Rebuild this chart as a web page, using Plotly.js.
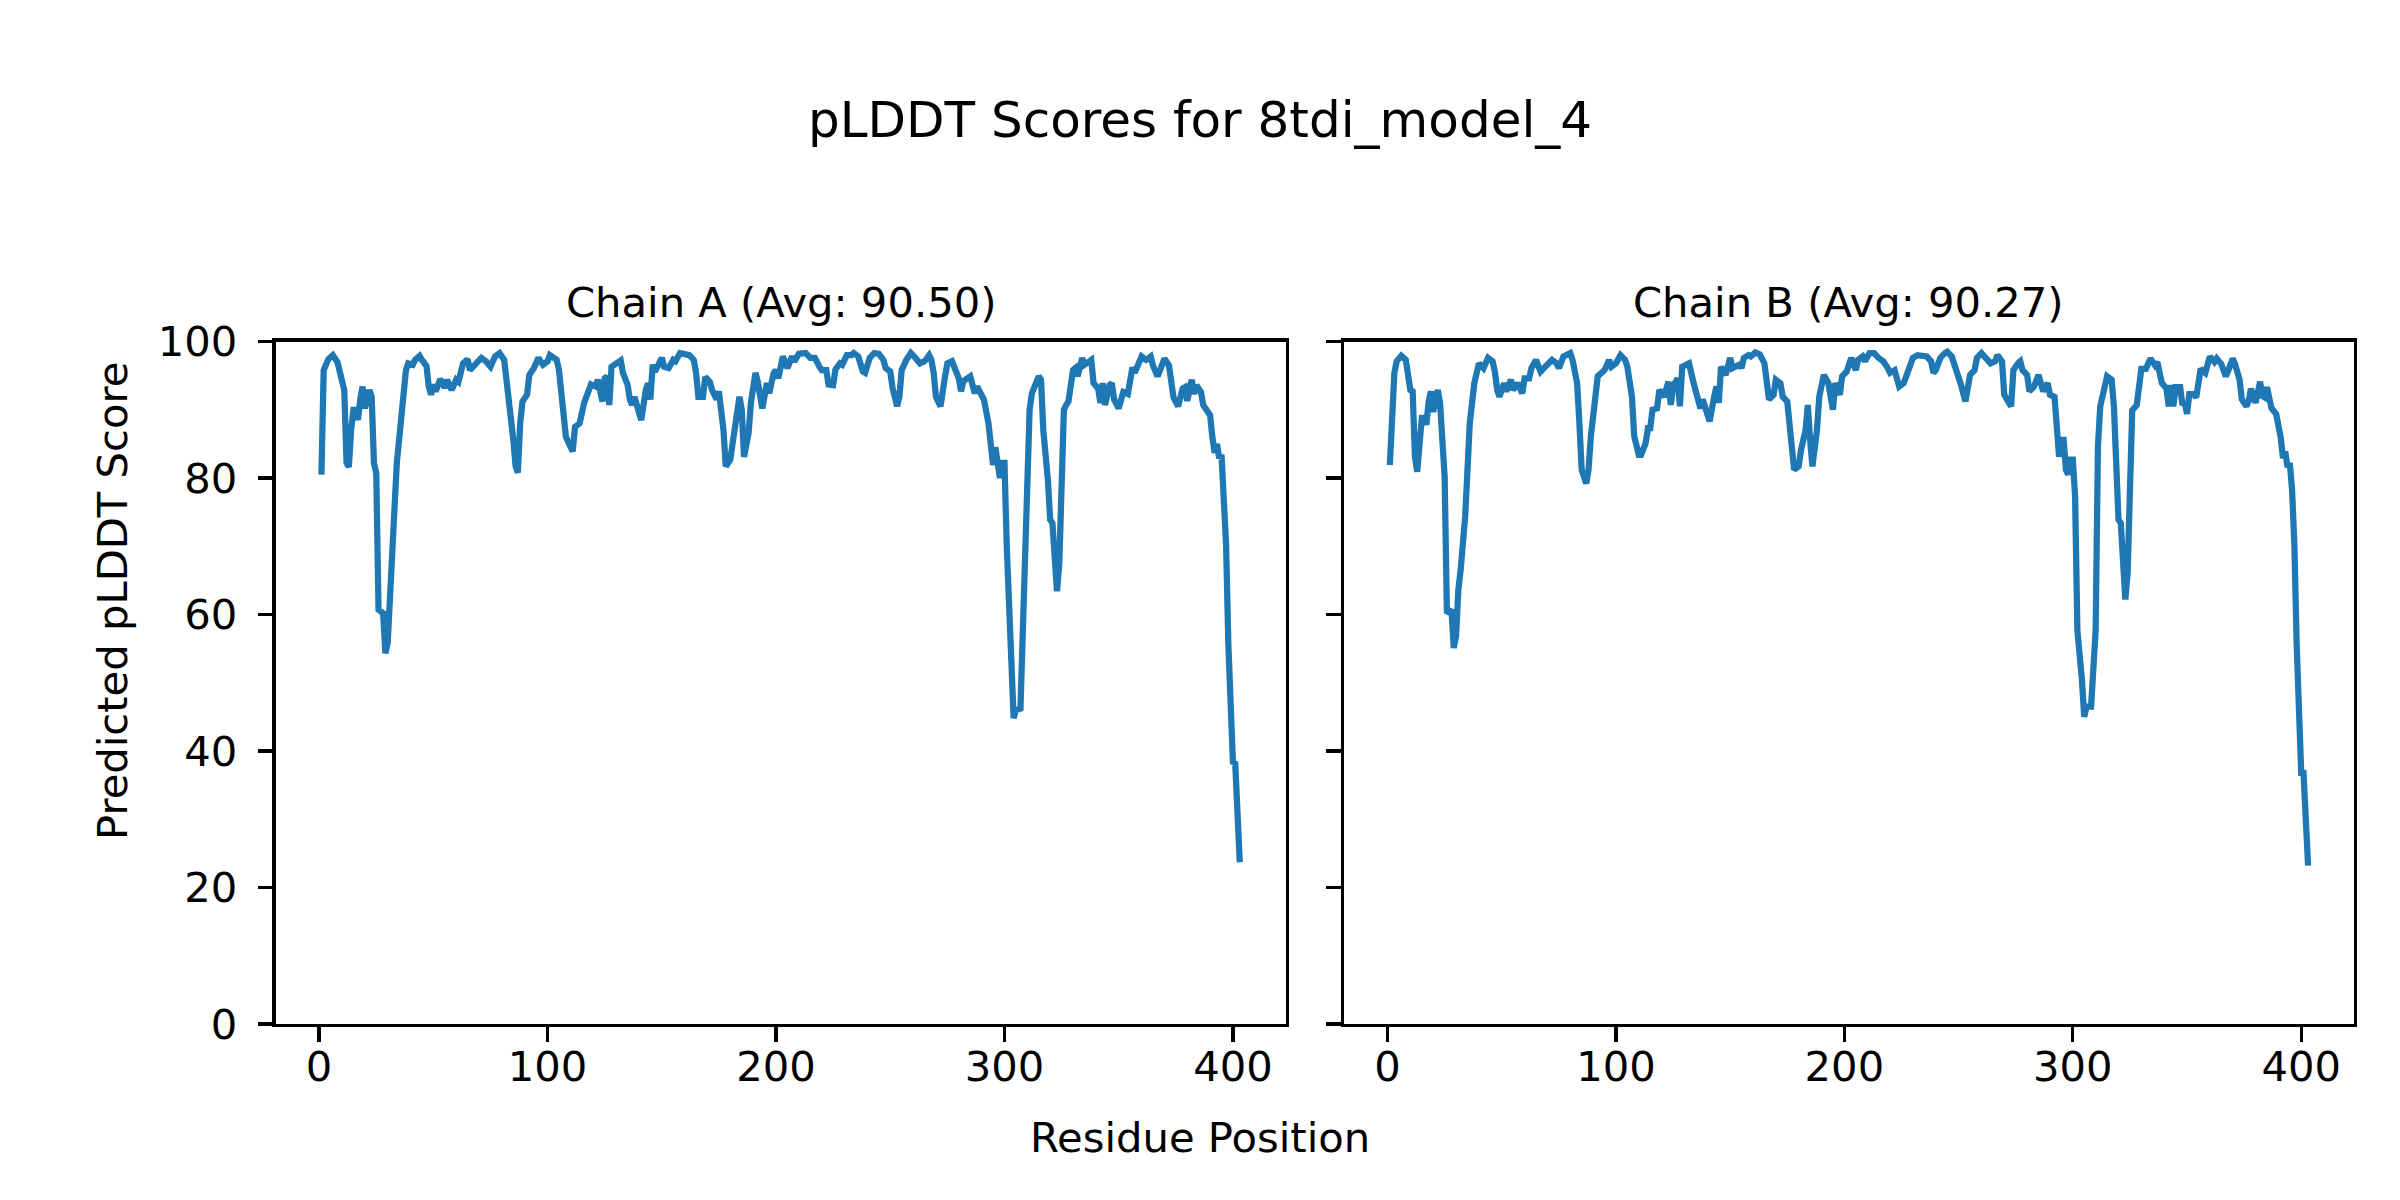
<!DOCTYPE html>
<html>
<head>
<meta charset="utf-8">
<script src="https://cdn.plot.ly/plotly-3.0.1.min.js"></script>
<style>body{margin:0;background:#fff}#chart{width:2400px;height:1200px}</style>
</head>
<body>
<div id="chart"></div>
<script>
const figureTitle = 'pLDDT Scores for 8tdi_model_4';
const chainTitles = ['Chain A (Avg: 90.50)', 'Chain B (Avg: 90.27)'];
const xLabel = 'Residue Position';
const yLabel = 'Predicted pLDDT Score';
const xTicks = [0, 100, 200, 300, 400];
const yTicks = [0, 20, 40, 60, 80, 100];

const residuesA = [1,2,4,6,8,9,10,11,12,13,14,15,16,17,18,19,20,22,23,24,25,26,28,29,30,31,32,34,36,38,39,41,42,44,45,47,48,49,50,51,53,55,56,58,60,61,63,65,66,69,71,73,75,77,79,81,83,85,86,87,88,89,91,92,94,96,98,100,101,104,105,106,108,109,111,112,114,116,117,119,121,122,124,125,126,127,128,130,132,133,135,136,137,138,140,141,143,144,145,146,147,150,151,153,155,156,158,160,162,164,165,166,168,169,171,172,174,175,177,178,180,181,182,184,185,186,188,189,191,192,194,196,197,199,200,201,203,204,205,207,208,210,212,213,215,217,219,220,222,223,225,226,228,229,231,233,234,236,238,239,241,243,245,247,248,250,251,253,254,255,257,259,261,263,265,267,268,269,270,272,274,275,277,278,280,281,282,285,286,287,288,290,291,293,294,295,296,297,298,299,300,301,302,303,304,305,307,308,309,311,312,314,315,316,317,319,320,321,322,323,324,325,326,327,328,330,331,332,334,335,337,338,339,341,342,343,344,346,347,348,350,352,354,356,357,359,360,362,364,365,367,368,370,372,374,376,378,379,380,382,383,384,386,387,390,391,392,393,394,395,396,397,398,399,400,401,402,403];
const plddtA = [80.5,95.8,97.4,98.0,97.0,95.4,93.4,92.9,82.2,81.6,87,90,90,88.5,91.5,93.4,90.2,92.9,91.9,82.2,80.7,60.7,60.2,54.3,55.8,63.6,67.5,82.2,89,95.8,96.8,96.6,97.3,97.9,97.3,96.4,93.4,92.2,93.7,92.7,94.5,93.2,94.4,92.9,94.4,94.1,96.8,97.4,95.8,96.8,97.6,97.1,96.3,97.8,98.3,97.3,91.9,85.6,81.7,80.8,88,91.2,92.2,95.1,96.1,97.6,96.6,97.1,98,97.3,95.8,91.9,86.1,85.3,83.9,87.5,88,91,91.9,93.7,93.4,94.4,91.2,94.6,94.9,90.7,96.3,96.8,97.2,95.4,93.7,91.5,90.7,91.9,89.3,88.5,92.9,93.9,91.5,96.6,95.6,97.6,96.3,96.1,97.3,97.1,98.3,98.2,98,97.3,95.4,91.9,91.9,94.8,94.1,92.9,91.5,92.7,87,81.7,82.7,85.1,88,91.9,90,83.1,86.6,91,95.4,94.1,90.2,93.9,92.4,95.4,95.8,94.6,97.8,96.8,96.1,97.8,97.1,98.2,98.3,98.3,97.6,97.6,96.3,95.8,95.8,93.7,93.6,95.9,96.8,96.6,98,98,98.3,97.8,95.6,95.4,97.6,98.3,98.2,97.3,96.1,95.6,93.2,90.5,91.9,95.8,97.3,98.3,97.6,96.8,97.1,98,97.3,95.4,91.9,90.5,94.9,96.8,97.1,96.1,94.6,92.7,94.2,94.9,93.4,92.4,93.4,91.9,91.5,88,83.6,81.9,84.5,81.7,80,82.2,82.2,70,57.7,53.3,44.8,46,46.2,57.7,72.4,90,92.4,94.4,94.9,94.4,87,79.7,73.9,73.4,66.5,63.4,67.5,79.7,90,90.7,91.2,95.8,96.1,94.9,97.6,96.6,97.1,97.3,93.9,93.1,91,93.9,90.7,93.6,93.9,91.5,90.2,92.6,92.3,96.2,95.4,96.7,97.8,97.3,97.8,96.5,94.9,95.7,97.5,96.5,91.8,90.5,93.1,93.3,91.3,94.4,92.3,93.6,92.6,90.7,89.2,86,83.7,85,82.9,83.4,78.2,70.3,55.6,44.1,38.4,38.2,27.4,23.7];

const residuesB = [1,3,4,6,8,9,10,11,12,13,14,15,16,17,18,19,20,22,23,25,26,28,29,30,31,32,34,36,38,39,40,42,44,46,47,48,49,51,52,54,55,57,59,60,62,63,65,67,69,72,74,75,77,79,80,81,83,84,85,87,88,89,90,91,92,95,97,98,100,102,104,105,107,108,110,111,113,114,115,116,118,119,121,123,124,125,127,128,129,131,132,134,135,137,138,140,141,143,144,145,146,148,150,151,154,155,156,158,159,161,163,165,166,167,169,170,172,173,175,176,178,180,181,183,184,185,186,188,189,191,193,195,196,198,199,201,203,205,206,208,209,211,213,215,217,219,220,222,224,226,228,230,232,234,236,238,239,240,242,244,245,247,249,250,251,253,254,255,257,258,260,262,264,266,267,269,270,273,274,276,277,278,280,281,283,285,286,287,289,290,292,293,294,295,296,297,298,299,300,301,302,304,305,306,308,310,311,312,314,315,317,318,319,320,321,322,323,324,325,326,328,329,330,332,333,334,336,337,339,341,342,343,344,345,347,348,349,350,351,353,354,355,356,358,359,360,362,363,365,367,368,370,371,373,374,376,377,378,380,381,382,383,384,385,386,387,389,390,391,392,393,394,395,396,397,398,399,400,401,402,403];
const plddtB = [81.9,95.4,97.1,97.9,97.3,95.4,92.9,92.7,83.1,80.9,85.6,88.8,88.8,87.8,91.2,92.7,89.7,92.9,91,80.2,60.2,60.7,55.1,56.8,63.6,66.5,74.4,88,93.9,96.1,96.8,96.1,97.6,97.1,95.6,92.9,91.9,93.9,92.7,94.4,92.9,93.9,92.4,94.6,94.6,96.1,97.3,95.6,96.3,97.3,96.8,96.1,97.8,98.2,98.3,97.3,93.9,88,81.2,79.2,81.2,86.1,90.5,91.9,94.9,95.8,97.3,96.3,96.8,98,97.3,96.3,91.9,86.1,83.4,83.4,85.1,87.3,87.3,90,90.2,92.9,91.9,94.1,90.7,93.4,94.6,90.5,96.3,96.6,96.8,93.9,92.7,90.2,91.5,89.5,88.3,91.9,93.4,91,96.3,95.1,97.6,96.1,96.6,96.1,97.6,98,97.8,98.4,98.1,96.8,93.4,91.5,92.2,94.4,93.9,91.9,91.2,88,81.2,81.7,84.1,87,90.7,85.6,81.7,87,91.9,95.1,93.9,90,93.9,92.2,94.9,95.6,97.6,95.8,97.3,97.8,97.1,98.3,98.3,97.6,97.1,96.1,95.4,95.8,93.4,93.9,96.1,97.6,98,98,97.8,97.1,95.4,95.8,97.6,98.3,98.5,97.8,95.8,95.4,93.7,91.2,92.7,95.1,95.8,97.6,98.3,97.6,96.8,97.1,98,97.1,92.2,90.5,95.8,96.8,97.1,95.8,95.1,92.7,93.4,95.1,93.7,92.7,93.9,92.2,91.9,88.5,83.1,85.6,85.6,81.2,80.5,82.7,82.7,77.3,57.7,50.4,45,46.5,46.5,57.7,84.6,90.5,93.2,94.9,94.4,90.5,82.2,73.9,73.4,65.6,62.2,66.1,78.2,89.9,90.7,94.4,96,96,96.7,97.5,96.5,97,93.9,93.1,90.5,93.6,90.5,93.3,93.3,90.7,91,89.4,92.3,92.3,91.8,94.6,96,95.4,96.7,97.8,97,97.5,96.7,94.9,95.7,97.5,96.7,94.4,91.5,90.5,91.3,93.1,91,93.1,94.1,92,91.8,93.3,92,90.2,89.4,88.1,86,82.9,83.9,81.6,82.2,78.2,70.3,55.6,44.1,36.8,36.8,27.4,23.2];

const FONT = 'DejaVu Sans, sans-serif';
const LINE_COLOR = '#1f77b4';

const traces = [
  {x: residuesA, y: plddtA, xaxis: 'x', yaxis: 'y', type: 'scatter', mode: 'lines',
   line: {color: LINE_COLOR, width: 6.25}, hoverinfo: 'skip'},
  {x: residuesB, y: plddtB, xaxis: 'x2', yaxis: 'y2', type: 'scatter', mode: 'lines',
   line: {color: LINE_COLOR, width: 6.25}, hoverinfo: 'skip'}
];

function xAxis(domain, anchor) {
  return {domain: domain, anchor: anchor, range: [-19.1, 423.1], tickmode: 'array', tickvals: xTicks,
    showline: true, mirror: true, linecolor: 'black', linewidth: 3.3,
    ticks: 'outside', ticklen: 14.6, tickwidth: 3.3, tickcolor: 'black',
    showgrid: false, zeroline: false, ticklabelstandoff: -11,
    tickfont: {family: FONT, size: 41.7, color: 'black'}};
}
function yAxis(domain, anchor, labels) {
  return {domain: domain, anchor: anchor, range: [0, 100], tickmode: 'array', tickvals: yTicks,
    showline: true, mirror: true, linecolor: 'black', linewidth: 3.3,
    ticks: 'outside', ticklen: 14.6, tickwidth: 3.3, tickcolor: 'black',
    showgrid: false, zeroline: false, showticklabels: labels, ticklabelstandoff: 12,
    tickfont: {family: FONT, size: 41.7, color: 'black'}};
}

const W = 2400, H = 1200;
const domA = [275.5 / W, 1285.7 / W];
const domB = [1343.9 / W, 2354 / W];
const domY = [1 - 1024 / H, 1 - 341.5 / H];

const layout = {
  width: W, height: H,
  margin: {l: 0, r: 0, t: 0, b: 0, pad: 0},
  paper_bgcolor: 'white', plot_bgcolor: 'white',
  showlegend: false,
  font: {family: FONT, color: 'black'},
  title: {text: figureTitle, x: 0.5, xanchor: 'center', y: 1 - 119 / H, yanchor: 'middle',
          font: {family: FONT, size: 50, color: 'black'}},
  xaxis: xAxis(domA, 'y'),
  yaxis: yAxis(domY, 'x', true),
  xaxis2: xAxis(domB, 'y2'),
  yaxis2: yAxis(domY, 'x2', false),
  annotations: [
    {text: chainTitles[0], xref: 'paper', yref: 'paper', x: (domA[0] + domA[1]) / 2, y: 1 - 303 / H,
     xanchor: 'center', yanchor: 'middle', showarrow: false, font: {family: FONT, size: 41.7, color: 'black'}},
    {text: chainTitles[1], xref: 'paper', yref: 'paper', x: (domB[0] + domB[1]) / 2, y: 1 - 303 / H,
     xanchor: 'center', yanchor: 'middle', showarrow: false, font: {family: FONT, size: 41.7, color: 'black'}},
    {text: xLabel, xref: 'paper', yref: 'paper', x: 0.5, y: 1 - 1137 / H,
     xanchor: 'center', yanchor: 'middle', showarrow: false, font: {family: FONT, size: 41.7, color: 'black'}},
    {text: yLabel, xref: 'paper', yref: 'paper', x: 112 / W, y: 1 - 601 / H, textangle: -90,
     xanchor: 'center', yanchor: 'middle', showarrow: false, font: {family: FONT, size: 41.7, color: 'black'}}
  ]
};

Plotly.newPlot('chart', traces, layout, {staticPlot: true, displayModeBar: false});
</script>
</body>
</html>
